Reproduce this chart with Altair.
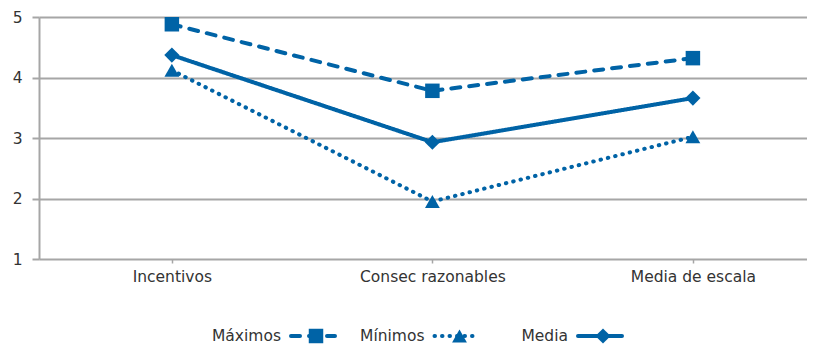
import altair as alt
import pandas as pd

categorias = ["Incentivos", "Consec razonables", "Media de escala"]
series = ["Máximos", "Mínimos", "Media"]
maximos = [4.88, 3.78, 4.32]
minimos = [4.12, 1.95, 3.02]
media = [4.37, 2.93, 3.66]

rows = []
for s, vals in zip(series, [maximos, minimos, media]):
    for c, v in zip(categorias, vals):
        rows.append({"serie": s, "categoria": c, "valor": v})
df = pd.DataFrame(rows)
leg = pd.DataFrame({"serie": series})

COLOR = "#0063a6"
GRID = "#a6a6a6"
TEXT = "#333333"
FONT = "DejaVu Sans"
FS = 15.5

dash_scale = alt.Scale(domain=series, range=[[9, 9], [0.5, 7], [1, 0]])
shape_scale = alt.Scale(domain=series, range=["square", "triangle-up", "diamond"])
size_scale = alt.Scale(domain=series, range=[210, 230, 270])

xscale = alt.Scale(type="point", padding=0.474, align=0.538)
x_axis = alt.Axis(title=None, labelAngle=0, domain=False, grid=False,
                  ticks=True, tickSize=4, tickColor=GRID, tickWidth=1.5,
                  labelFontSize=FS, labelColor=TEXT, labelFont=FONT, labelPadding=6)
y_axis = alt.Axis(title=None, values=[1, 2, 3, 4, 5], tickCount=5,
                  grid=True, gridColor=GRID, gridWidth=2,
                  domain=True, domainColor=GRID, domainWidth=2,
                  ticks=True, tickSize=7, tickColor=GRID, tickWidth=2,
                  labelFontSize=FS, labelColor=TEXT, labelFont=FONT,
                  labelPadding=10, format="d")
x_enc = alt.X("categoria:N", sort=categorias, scale=xscale, axis=x_axis)
y_enc = alt.Y("valor:Q", scale=alt.Scale(domain=[1, 5], nice=False, zero=False), axis=y_axis)

base = alt.Chart(df)
lines = base.mark_line(color=COLOR, strokeWidth=4, strokeCap="round").encode(
    x=x_enc, y=y_enc,
    detail="serie:N",
    strokeDash=alt.StrokeDash("serie:N", scale=dash_scale, legend=None),
)
points = base.mark_point(color=COLOR, filled=True, opacity=1).encode(
    x=x_enc, y=y_enc,
    shape=alt.Shape("serie:N", scale=shape_scale, legend=None),
    size=alt.Size("serie:N", scale=size_scale, legend=None),
)
main = alt.layer(lines, points)

LEG_Y = 319
leg_x = alt.X("serie:N", sort=series,
              scale=alt.Scale(type="point", range=[274, 561], padding=0), axis=None)
leg_base = alt.Chart(leg)
leg_line = leg_base.mark_point(shape="M-1,0L1,0", filled=False, color=COLOR,
                               strokeWidth=4, strokeCap="round", size=1936, opacity=1).encode(
    x=leg_x, y=alt.value(LEG_Y),
    strokeDash=alt.StrokeDash("serie:N", scale=dash_scale, legend=None),
)
leg_mark = leg_base.mark_point(color=COLOR, filled=True, opacity=1, xOffset=3).encode(
    x=leg_x, y=alt.value(LEG_Y),
    shape=alt.Shape("serie:N", scale=shape_scale, legend=None),
    size=alt.Size("serie:N", scale=size_scale, legend=None),
)
leg_text = leg_base.mark_text(align="right", baseline="middle", dx=-32, fontSize=FS,
                              font=FONT, color=TEXT).encode(
    x=leg_x, y=alt.value(LEG_Y), text="serie:N",
)
legend = alt.layer(leg_line, leg_mark, leg_text)

chart = alt.layer(main, legend).resolve_scale(x="independent").properties(
    width=768, height=242,
    autosize=alt.AutoSizeParams(type="none"),
    padding={"left": 31, "top": 9, "right": 0, "bottom": 86},
).configure_view(stroke=None).configure_axis(
    labelFontSize=FS, labelFont=FONT, labelColor=TEXT
)

chart.save("out.html", embed_options={"renderer": "svg", "actions": False})
